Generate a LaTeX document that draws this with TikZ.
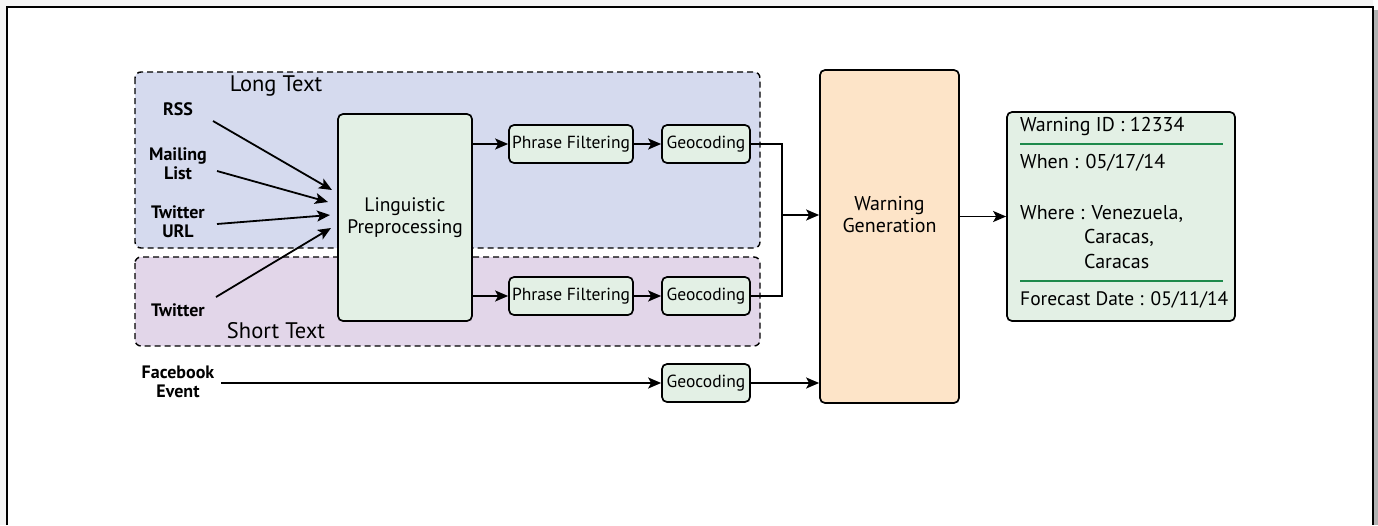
\documentclass[tikz,border=0pt]{standalone}
\usepackage{fontspec}
\setmainfont{PT Sans}
\usetikzlibrary{arrows.meta}
\definecolor{longfill}{HTML}{D5DAEE}
\definecolor{shortfill}{HTML}{E2D6E9}
\definecolor{boxfill}{HTML}{E3F0E5}
\definecolor{warnfill}{HTML}{FDE4C8}
\definecolor{sepgreen}{HTML}{1E8A4C}
\begin{document}
\begin{tikzpicture}[x=1pt,y=-1pt,
  arr/.style={line width=1.8pt,-{Stealth[length=13pt,width=11pt,inset=3pt]}},
  conn/.style={line width=1.8pt},
  group/.style={draw,line width=1.4pt,dash pattern=on 6pt off 4pt,rounded corners=6pt},
  procbox/.style={draw,line width=1.7pt,rounded corners=5pt,fill=boxfill,align=center,inner sep=0pt,font=\fontsize{17.5}{20}\selectfont},
  src/.style={font=\bfseries\fontsize{18}{19}\selectfont,align=center},
  grouplbl/.style={font=\fontsize{22.5}{24}\selectfont},
  info/.style={font=\fontsize{20}{22}\selectfont,anchor=west,inner sep=0pt}
  ]
\useasboundingbox (0,0) rectangle (1378,525);
% page frame with shadow
\fill[gray!60] (1373,10) rectangle (1378,525);
\fill[gray!8] (0,0) rectangle (7,525);
\fill[gray!8] (0,0) rectangle (1373,7);
\draw[line width=1.5pt] (7,525) -- (7,7) -- (1373,7) -- (1373,525);
% groups
\draw[group,fill=longfill] (135,72) rectangle (760,248);
\draw[group,fill=shortfill] (135,257) rectangle (760,346);
\node[grouplbl] (lt) at (276,86) {Long Text};
\node[grouplbl] (st) at (276,331) {Short Text};
% sources
\node[src] (rss) at (178,109) {RSS};
\node[src] (mail) at (178,164) {Mailing\\List};
\node[src] (turl) at (178,222) {Twitter\\URL};
\node[src] (tw) at (178,310) {Twitter};
\node[src] (fb) at (178,382) {Facebook\\Event};
% boxes
\node[procbox,minimum width=134pt,minimum height=207pt,font=\fontsize{19.5}{22}\selectfont] (ling) at (405,217.5) {Linguistic\\Preprocessing};
\node[procbox,minimum width=124pt,minimum height=38pt] (pf1) at (571,144) {Phrase Filtering};
\node[procbox,minimum width=88pt,minimum height=38pt] (geo1) at (706,144) {Geocoding};
\node[procbox,minimum width=124pt,minimum height=38pt] (pf2) at (571,296) {Phrase Filtering};
\node[procbox,minimum width=88pt,minimum height=38pt] (geo2) at (706,296) {Geocoding};
\node[procbox,minimum width=88pt,minimum height=38pt] (geo3) at (706,383) {Geocoding};
\node[procbox,fill=warnfill,minimum width=139pt,minimum height=333pt] (warn) at (889.5,236.5) {};
\node[font=\fontsize{20}{22}\selectfont,align=center] (warnlbl) at (889.5,215) {Warning\\Generation};
\node[procbox,minimum width=228pt,minimum height=209pt] (out) at (1121,216.5) {};
% output contents
\node[info] (wid) at (1020,126) {Warning ID : 12334};
\node[info] (when) at (1020,163) {When : 05/17/14};
\node[info] (where) at (1020,214) {Where : Venezuela,};
\node[info] (c1) at (1084,238) {Caracas,};
\node[info] (c2) at (1084,261) {Caracas};
\node[info,font=\fontsize{19.5}{22}\selectfont] (fc) at (1020,300) {Forecast Date : 05/11/14};
\coordinate (s1a) at (1020,144); \coordinate (s1b) at (1223,144);
\coordinate (s2a) at (1020,281); \coordinate (s2b) at (1223,281);
\draw[sepgreen,line width=1.5pt] (s1a) -- (s1b);
\draw[sepgreen,line width=1.5pt] (s2a) -- (s2b);
% source arrows
\coordinate (rssS) at (213,121); \coordinate (rssE) at (332,190);
\coordinate (mailS) at (217,171); \coordinate (mailE) at (328,202);
\coordinate (turlS) at (217,224); \coordinate (turlE) at (330,215);
\coordinate (twS) at (216,297); \coordinate (twE) at (331,228);
\draw[arr] (rssS) -- (rssE);
\draw[arr] (mailS) -- (mailE);
\draw[arr] (turlS) -- (turlE);
\draw[arr] (twS) -- (twE);
% flow
\draw[arr] (ling.east |- pf1) -- (pf1.west);
\draw[arr] (pf1) -- (geo1);
\draw[arr] (ling.east |- pf2) -- (pf2.west);
\draw[arr] (pf2) -- (geo2);
\coordinate (j1) at (782,144); \coordinate (j2) at (782,296); \coordinate (jm) at (782,215);
\draw[conn] (geo1.east) -- (j1) -- (j2) -- (geo2.east);
\draw[arr] (jm) -- (warn.west |- jm);
\coordinate (fbS) at (221,383);
\draw[arr] (fbS) -- (geo3.west);
\draw[arr] (geo3.east) -- (warn.west |- geo3);
\draw[arr] (warn.east |- out) -- (out.west);
\end{tikzpicture}
\end{document}
